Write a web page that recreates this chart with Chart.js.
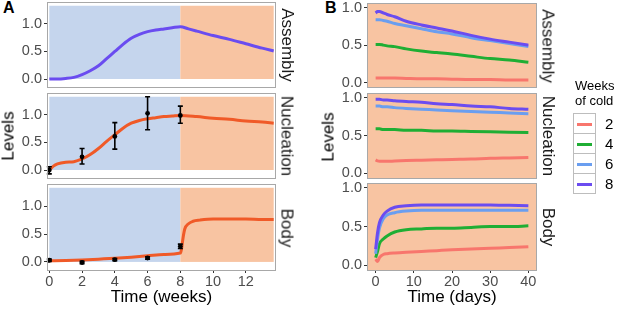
<!DOCTYPE html>
<html>
<head>
<meta charset="utf-8">
<script src="https://cdn.jsdelivr.net/npm/chart.js@4"></script>
<style>
  body { margin: 0; background: #fff; }
  #wrap { position: relative; width: 617px; height: 310px; overflow: hidden; font-family: "Liberation Sans", Arial, sans-serif; }
  canvas { position: absolute; }
  .tag { position: absolute; font-weight: bold; font-size: 16px; line-height: 16px; }
  .rot { position: absolute; font-size: 17px; line-height: 17px; white-space: nowrap; color: #1a1a1a; }
  .lg { position: absolute; white-space: nowrap; }
</style>
</head>
<body>
<div id="wrap">
  <div class="tag" style="left:3px;top:0px">A</div>
  <div class="tag" style="left:325px;top:0px">B</div>
</div>
<script>
const FONT = '"Liberation Sans", Arial, sans-serif';

// ---- panel A (weeks) ----
const weekTicks = [0, 2, 4, 6, 8, 10, 12];
const levelTicks = [0, 0.5, 1];

const assemblyWeeks = [0, 0.5, 1, 1.5, 2, 2.5, 3, 3.5, 4, 4.5, 5, 5.5, 6, 6.5, 7, 7.5, 8, 8.5, 9, 10, 11, 12, 13, 13.7];
const assemblyLevels = [0, 0, 0.01, 0.03, 0.08, 0.15, 0.24, 0.37, 0.5, 0.63, 0.74, 0.81, 0.86, 0.89, 0.91, 0.93, 0.95, 0.91, 0.87, 0.79, 0.72, 0.64, 0.56, 0.51];

const nucleationWeeks = [0, 0.25, 0.5, 1, 1.5, 2, 2.5, 3, 3.5, 4, 4.5, 5, 5.5, 6, 6.5, 7, 7.5, 8, 9, 10, 11, 12, 13, 13.7];
const nucleationLevels = [0, 0.07, 0.11, 0.14, 0.15, 0.2, 0.28, 0.39, 0.52, 0.64, 0.76, 0.85, 0.9, 0.93, 0.95, 0.97, 0.98, 0.99, 0.97, 0.94, 0.92, 0.89, 0.87, 0.85];

const bodyWeeks = [0, 1, 2, 3, 4, 5, 6, 7, 8, 8.07, 8.17, 8.27, 8.48, 8.78, 9.19, 10, 11, 12, 13, 13.7];
const bodyLevels = [0.02, 0.025, 0.035, 0.05, 0.065, 0.085, 0.11, 0.135, 0.16, 0.23, 0.44, 0.59, 0.68, 0.73, 0.75, 0.77, 0.77, 0.77, 0.76, 0.76];

const sampleWeeks = [0, 2, 4, 6, 8];
const nucleationMean = [0, 0.24, 0.61, 1.03, 0.99];
const nucleationLow = [-0.07, 0.11, 0.38, 0.73, 0.85];
const nucleationHigh = [0.06, 0.39, 0.86, 1.33, 1.16];
const bodyMean = [0.03, -0.01, 0.04, 0.07, 0.28];
const bodyLow = [0.01, -0.03, 0.02, 0.05, 0.24];
const bodyHigh = [0.05, 0.01, 0.06, 0.09, 0.32];

// cold period 0-8 weeks, warm after
const coldWeeks = [0, 8];
const warmWeeks = [8, 13.7];
const shadeLevels = [0, 1.33];

// ---- panel B (days) ----
const dayTicks = [0, 10, 20, 30, 40];
const weeksOfCold = ['2', '4', '6', '8'];
const days = [0, 0.5, 1, 2, 3, 5, 8, 12, 16, 20, 25, 30, 35, 40];

const assemblyByCold = [
  [0.06, 0.06, 0.06, 0.06, 0.06, 0.06, 0.055, 0.05, 0.05, 0.045, 0.04, 0.04, 0.035, 0.035],
  [0.51, 0.51, 0.51, 0.5, 0.49, 0.48, 0.45, 0.42, 0.4, 0.38, 0.35, 0.32, 0.3, 0.27],
  [0.84, 0.84, 0.84, 0.83, 0.82, 0.79, 0.76, 0.72, 0.68, 0.65, 0.6, 0.56, 0.52, 0.48],
  [0.93, 0.95, 0.95, 0.93, 0.91, 0.88, 0.82, 0.77, 0.73, 0.69, 0.63, 0.58, 0.54, 0.5]
];
const nucleationByCold = [
  [0.18, 0.165, 0.16, 0.16, 0.16, 0.165, 0.17, 0.175, 0.18, 0.185, 0.19, 0.2, 0.205, 0.21],
  [0.59, 0.59, 0.59, 0.58, 0.58, 0.58, 0.57, 0.57, 0.56, 0.56, 0.555, 0.55, 0.545, 0.54],
  [0.89, 0.89, 0.89, 0.88, 0.88, 0.87, 0.86, 0.85, 0.84, 0.83, 0.82, 0.81, 0.8, 0.79],
  [0.98, 0.98, 0.98, 0.97, 0.97, 0.96, 0.95, 0.94, 0.92, 0.91, 0.89, 0.88, 0.86, 0.85]
];
const bodyByCold = [
  [0.08, 0.05, 0.1, 0.14, 0.15, 0.16, 0.17, 0.18, 0.19, 0.2, 0.21, 0.22, 0.23, 0.24],
  [0.1, 0.18, 0.28, 0.34, 0.38, 0.43, 0.46, 0.47, 0.48, 0.48, 0.49, 0.5, 0.5, 0.51],
  [0.15, 0.34, 0.48, 0.6, 0.65, 0.68, 0.7, 0.71, 0.71, 0.71, 0.71, 0.71, 0.71, 0.71],
  [0.21, 0.42, 0.55, 0.65, 0.7, 0.75, 0.77, 0.78, 0.78, 0.78, 0.78, 0.78, 0.775, 0.77]
];

const coldColors = ['#f8766d', '#1fae34', '#6a9ef0', '#6b4cf0'];
const BLUE_BG = '#c5d5ed';
const ORANGE_BG = '#f8c4a2';

const wrap = document.getElementById('wrap');

const panelPlugin = {
  id: 'panel',
  beforeDatasetsDraw(chart, args, o) {
    const { ctx, chartArea: a, scales: { x, y } } = chart;
    ctx.save();
    if (o.fill) {
      ctx.fillStyle = o.fill;
      ctx.fillRect(a.left, a.top, a.width, a.height);
    }
    (o.rects || []).forEach(r => {
      const x0 = x.getPixelForValue(r.xs[0]), x1 = x.getPixelForValue(r.xs[1]);
      const y0 = y.getPixelForValue(r.ys[0]), y1 = y.getPixelForValue(r.ys[1]);
      ctx.fillStyle = r.color;
      ctx.fillRect(x0, y1, x1 - x0, y0 - y1);
    });
    ctx.restore();
  },
  afterDatasetsDraw(chart, args, o) {
    const { ctx, scales: { x, y } } = chart;
    if (!o.err) return;
    ctx.save();
    ctx.strokeStyle = '#000';
    ctx.lineWidth = 1.6;
    o.err.x.forEach((t, i) => {
      const px = x.getPixelForValue(t);
      const lo = y.getPixelForValue(o.err.low[i]), hi = y.getPixelForValue(o.err.high[i]);
      ctx.beginPath();
      ctx.moveTo(px, lo); ctx.lineTo(px, hi);
      ctx.moveTo(px - 2.5, lo); ctx.lineTo(px + 2.5, lo);
      ctx.moveTo(px - 2.5, hi); ctx.lineTo(px + 2.5, hi);
      ctx.stroke();
    });
    ctx.restore();
  },
  afterDraw(chart) {
    const { ctx, chartArea: a } = chart;
    ctx.save();
    ctx.strokeStyle = '#a8a8a8';
    ctx.lineWidth = 1;
    ctx.strokeRect(a.left - 0.5, a.top - 0.5, a.width + 1, a.height + 1);
    ctx.restore();
  }
};

function yAxis(width, min, max) {
  return {
    type: 'linear', min, max,
    afterFit: s => { s.width = width; },
    afterBuildTicks: s => { s.ticks = levelTicks.map(v => ({ value: v })); },
    ticks: { color: '#4d4d4d', font: { size: 14.5, family: FONT }, padding: 2, callback: v => v.toFixed(1) },
    grid: { drawOnChartArea: false, tickLength: 4, color: '#333' },
    border: { display: false }
  };
}

function xAxis(min, max, tickList, title) {
  const ax = {
    type: 'linear', min, max,
    display: !!title,
    afterBuildTicks: s => { s.ticks = tickList.map(v => ({ value: v })); },
    ticks: { color: '#4d4d4d', font: { size: 14.5, family: FONT }, padding: 0, maxRotation: 0, callback: v => String(v) },
    grid: { drawOnChartArea: false, tickLength: 3, color: '#333' },
    border: { display: false },
    title: { display: !!title, text: title || '', color: '#000', font: { size: 17, family: FONT }, padding: { top: 0, bottom: 2 } }
  };
  if (title) ax.afterFit = s => { s.height = 40; };
  return ax;
}

function panel(cfg) {
  const pad = 12;
  const top = cfg.top - pad;
  const height = cfg.title ? 310 - top : (cfg.bottom - cfg.top) + 2 * pad;
  const c = document.createElement('canvas');
  c.width = cfg.width; c.height = height;
  c.style.left = cfg.left + 'px'; c.style.top = top + 'px';
  wrap.appendChild(c);
  new Chart(c, {
    type: 'line',
    data: { datasets: cfg.datasets },
    plugins: [panelPlugin],
    options: {
      responsive: false, animation: false,
      layout: { padding: { left: 0, right: cfg.right, top: pad, bottom: cfg.title ? 0 : pad } },
      scales: { x: xAxis(cfg.xmin, cfg.xmax, cfg.xticks, cfg.title), y: yAxis(cfg.yw, cfg.ymin, cfg.ymax) },
      plugins: { legend: { display: false }, tooltip: { enabled: false }, panel: cfg.panel }
    }
  });
  const s = document.createElement('div');
  s.className = 'rot';
  s.textContent = cfg.strip;
  s.style.left = cfg.stripX + 'px';
  s.style.top = ((cfg.top + cfg.bottom) / 2) + 'px';
  s.style.transform = 'translate(-50%, -50%) rotate(90deg)';
  wrap.appendChild(s);
}

function line(xs, ys, color, width) {
  return {
    data: xs.map((x, i) => ({ x, y: ys[i] })),
    borderColor: color, borderWidth: width, pointRadius: 0,
    cubicInterpolationMode: 'monotone', fill: false, clip: 0
  };
}
function dots(xs, ys) {
  return {
    data: xs.map((x, i) => ({ x, y: ys[i] })),
    showLine: false, pointRadius: 2.4, pointBackgroundColor: '#000', pointBorderWidth: 0, clip: 0
  };
}

const aShade = { rects: [
  { xs: coldWeeks, ys: shadeLevels, color: BLUE_BG },
  { xs: warmWeeks, ys: shadeLevels, color: ORANGE_BG }
] };
const aBase = { left: 0, width: 300, yw: 48, right: 25, xmin: -0.08, xmax: 13.78, xticks: weekTicks, ymin: -0.145, ymax: 1.38, stripX: 286.5 };

panel(Object.assign({}, aBase, { top: 3, bottom: 87, strip: 'Assembly', panel: aShade,
  datasets: [line(assemblyWeeks, assemblyLevels, '#6a4cf0', 3)] }));
panel(Object.assign({}, aBase, { top: 94, bottom: 178, strip: 'Nucleation',
  panel: Object.assign({ err: { x: sampleWeeks, low: nucleationLow, high: nucleationHigh } }, aShade),
  datasets: [dots(sampleWeeks, nucleationMean), line(nucleationWeeks, nucleationLevels, '#f05a28', 3)] }));
panel(Object.assign({}, aBase, { top: 185, bottom: 270, strip: 'Body', title: 'Time (weeks)',
  panel: Object.assign({ err: { x: sampleWeeks, low: bodyLow, high: bodyHigh } }, aShade),
  datasets: [dots(sampleWeeks, bodyMean), line(bodyWeeks, bodyLevels, '#f05a28', 3)] }));

const bBase = { left: 300, width: 260, yw: 68, right: 24, xmin: -2, xmax: 42, xticks: dayTicks, ymin: -0.06, ymax: 1.05, stripX: 547.5, panel: { fill: ORANGE_BG } };
function coldLines(rows) {
  return rows.map((r, i) => line(days, r, coldColors[i], 3)).reverse();
}
panel(Object.assign({}, bBase, { top: 4, bottom: 87, strip: 'Assembly', datasets: coldLines(assemblyByCold) }));
panel(Object.assign({}, bBase, { top: 94, bottom: 178, strip: 'Nucleation', datasets: coldLines(nucleationByCold) }));
panel(Object.assign({}, bBase, { top: 184, bottom: 269, strip: 'Body', title: 'Time (days)', datasets: coldLines(bodyByCold) }));

// y titles
[[8, 136], [328, 137]].forEach(([x, y]) => {
  const d = document.createElement('div');
  d.className = 'rot';
  d.style.color = '#000';
  d.textContent = 'Levels';
  d.style.left = x + 'px'; d.style.top = y + 'px';
  d.style.transform = 'translate(-50%, -50%) rotate(-90deg)';
  wrap.appendChild(d);
});

// legend
const lgTitle = document.createElement('div');
lgTitle.className = 'lg';
lgTitle.style.cssText = 'left:575px;top:79px;font-size:13px;line-height:14.5px;color:#000';
lgTitle.innerHTML = 'Weeks<br>of cold';
wrap.appendChild(lgTitle);
weeksOfCold.forEach((w, i) => {
  const key = document.createElement('div');
  key.className = 'lg';
  key.style.cssText = `left:573px;top:${113 + i * 20}px;width:23px;height:21px;box-sizing:border-box;border:1px solid #bdbdbd;background:#fff`;
  const stroke = document.createElement('div');
  stroke.style.cssText = `position:absolute;left:3px;right:3px;top:9px;height:2.5px;background:${coldColors[i]}`;
  key.appendChild(stroke);
  wrap.appendChild(key);
  const t = document.createElement('div');
  t.className = 'lg';
  t.style.cssText = `left:605px;top:${113 + i * 20 + 2}px;font-size:15px;line-height:17px;color:#000`;
  t.textContent = w;
  wrap.appendChild(t);
});
</script>
</body>
</html>
